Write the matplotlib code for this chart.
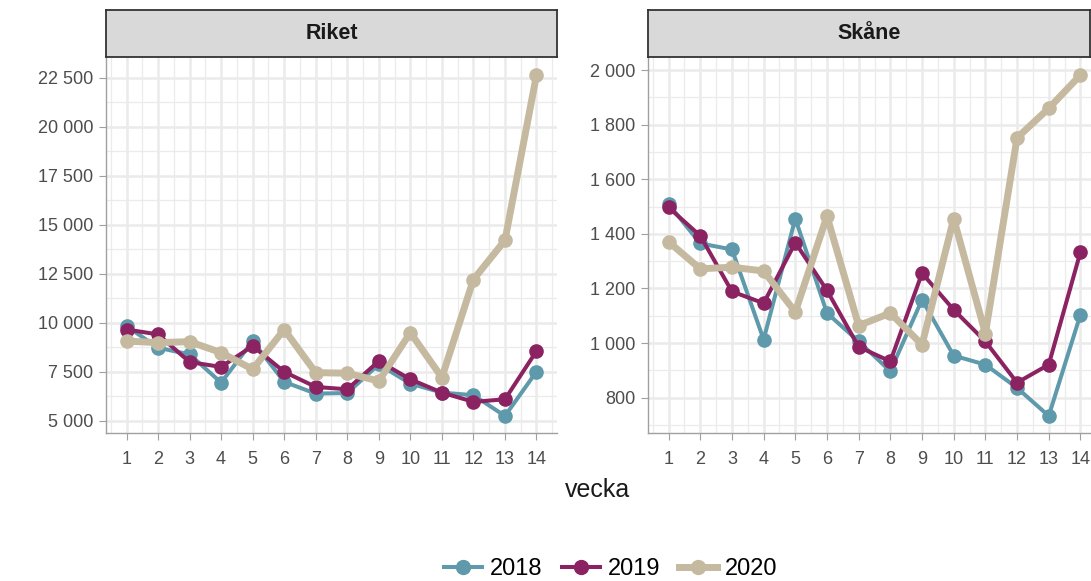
import matplotlib.pyplot as plt
from matplotlib.ticker import FuncFormatter, MultipleLocator

plt.rcParams['font.family'] = ['Liberation Sans', 'DejaVu Sans']

# data
veckor = list(range(1, 15))
years = ['2018', '2019', '2020']
colors = {'2018': '#5e9aab', '2019': '#8b2261', '2020': '#c5b9a0'}

riket_2018 = [9830, 8730, 8390, 6950, 9070, 6990, 6390, 6420, 7880, 6900, 6440, 6310, 5250, 7510]
riket_2019 = [9660, 9410, 8000, 7750, 8820, 7500, 6730, 6610, 8050, 7120, 6440, 5970, 6100, 8560]
riket_2020 = [9070, 8990, 9040, 8480, 7630, 9660, 7460, 7430, 7030, 9500, 7210, 12210, 14210, 22640]

skane_2018 = [1509, 1365, 1343, 1013, 1456, 1110, 1006, 897, 1159, 954, 921, 836, 733, 1104]
skane_2019 = [1497, 1393, 1189, 1146, 1368, 1193, 986, 933, 1256, 1122, 1006, 855, 921, 1333]
skane_2020 = [1371, 1272, 1278, 1264, 1114, 1465, 1064, 1110, 994, 1456, 1035, 1752, 1860, 1982]

panels = [('Riket', [riket_2018, riket_2019, riket_2020], 2500, 1250),
          ('Skåne', [skane_2018, skane_2019, skane_2020], 200, 100)]

W, H = 1091, 581
fig = plt.figure(figsize=(W / 100, H / 100), dpi=100)

def sv_fmt(v, pos):
    return '{:,.0f}'.format(v).replace(',', ' ')

# axes positions in pixels: left, right, top, bottom
boxes = [(106, 557, 58, 433), (648, 1101, 58, 433)]

for (name, series, major, minor), (l, r, t, b) in zip(panels, boxes):
    ax = fig.add_axes([l / W, 1 - b / H, (r - l) / W, (b - t) / H])
    for yr, vals in zip(years, series):
        lw = 5 if yr == '2020' else 2.9
        ax.plot(veckor, vals, color=colors[yr], lw=lw, marker='o', ms=9.5,
                solid_capstyle='round', zorder=3)
    allv = [v for s in series for v in s]
    lo, hi = min(allv), max(allv)
    pad = (hi - lo) * 0.05
    ax.set_ylim(lo - pad, hi + pad)
    ax.set_xlim(1 - 0.65, 14 + 0.65)
    ax.set_xticks(veckor)
    ax.xaxis.set_minor_locator(MultipleLocator(0.5))
    ax.yaxis.set_major_locator(MultipleLocator(major))
    ax.yaxis.set_minor_locator(MultipleLocator(minor))
    ax.yaxis.set_major_formatter(FuncFormatter(sv_fmt))
    ax.grid(which='major', color='#ebebeb', lw=1.8, zorder=0)
    ax.grid(which='minor', color='#ebebeb', lw=0.9, zorder=0)
    ax.set_axisbelow(True)
    for s in ['top', 'right']:
        ax.spines[s].set_visible(False)
    for s in ['left', 'bottom']:
        ax.spines[s].set_color('#a0a0a0')
        ax.spines[s].set_linewidth(1)
    ax.tick_params(axis='x', which='major', pad=8)
    ax.tick_params(which='major', length=5, color='#a0a0a0', labelsize=13,
                   labelcolor='#4d4d4d')
    ax.tick_params(axis='y', which='major', pad=4)
    ax.tick_params(which='minor', length=0)
    # strip
    sl = fig.add_axes([l / W, 1 - 57 / H, (min(r, 1090) - l) / W, 47 / H])
    sl.set_xticks([]); sl.set_yticks([])
    sl.set_facecolor('#d9d9d9')
    for s in sl.spines.values():
        s.set_color('#333333'); s.set_linewidth(1.3)
    sl.text(0.5, 0.5, name, ha='center', va='center', fontsize=15.5,
            fontweight='bold', color='#1a1a1a', transform=sl.transAxes)

fig.text(598 / W, 1 - 490 / H, 'vecka', ha='center', va='center', fontsize=18,
         color='#1a1a1a')

handles = [plt.Line2D([], [], color=colors[y], lw=5 if y == '2020' else 2.9,
                      marker='o', ms=10) for y in years]
fig.legend(handles, years, loc='center', bbox_to_anchor=(611 / W, 1 - 569 / H),
           ncol=3, frameon=False, fontsize=17, handlelength=1.6,
           columnspacing=0.8, handletextpad=0.35)

fig.savefig('out.png', dpi=100)
